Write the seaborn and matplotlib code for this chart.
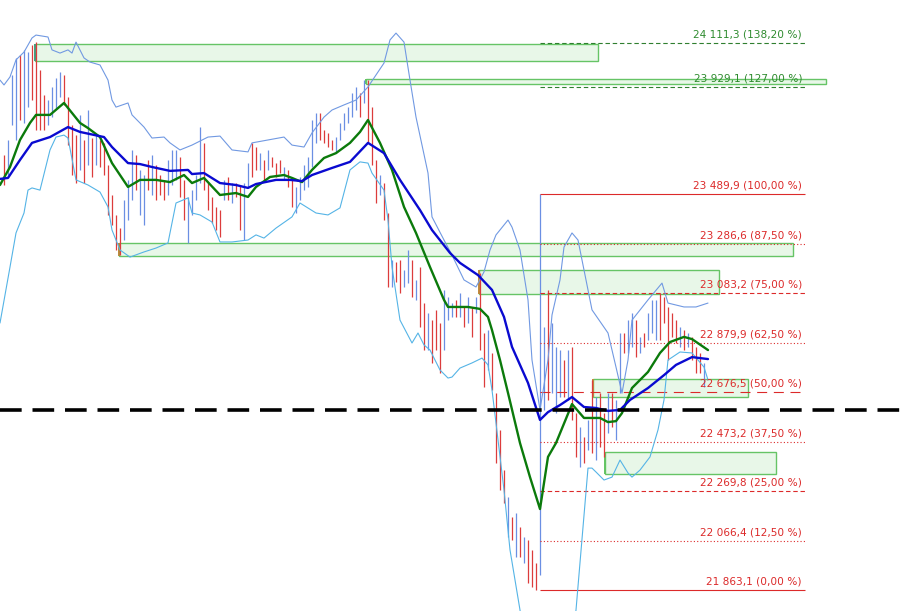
import numpy as np
import pandas as pd
import matplotlib
matplotlib.use("Agg")
import matplotlib.pyplot as plt
from matplotlib.patches import Rectangle
import seaborn as sns

sns.set_theme(style="white")
plt.rcParams["font.family"] = ["DejaVu Sans"]

# ----------------------------------------------------------------------
# price bars (one per bar index 1..176), high / low and direction
# ----------------------------------------------------------------------
bar_high = [
    23650, 23712, 23979, 24049, 24061, 24082, 24073, 24102, 24114, 23999,
    23897, 23876, 23930, 23967, 23991, 23979, 23889, 23773, 23732, 23815,
    23712, 23835, 23720, 23732, 23712, 23700, 23609, 23486, 23404, 23350,
    23465, 23548, 23671, 23650, 23589, 23568, 23630, 23650, 23609, 23568,
    23548, 23630, 23671, 23671, 23642, 23548, 23478, 23506, 23568, 23765,
    23700, 23535, 23478, 23437, 23424, 23548, 23560, 23535, 23535, 23527,
    23535, 23617, 23700, 23683, 23658, 23630, 23671, 23642, 23617, 23630,
    23601, 23589, 23560, 23519, 23560, 23609, 23642, 23794, 23823, 23823,
    23753, 23741, 23712, 23724, 23782, 23823, 23847, 23905, 23930, 23905,
    23958, 23958, 23847, 23630, 23568, 23535, 23412, 23219, 23211, 23219,
    23178, 23260, 23219, 23137, 23190, 23042, 23001, 22972, 23014, 22960,
    23096, 23067, 23042, 23055, 23083, 23026, 23067, 23026, 23067, 23166,
    22919, 22931, 22837, 22673, 22521, 22356, 22245, 22163, 22180, 22122,
    22081, 22069, 22028, 21974, 23489.9, 22944, 23096, 22960, 22862, 22849,
    22808, 22849, 22862, 22590, 22533, 22492, 22562, 22726, 22656, 22673,
    22590, 22673, 22673, 22644, 22919, 22919, 22972, 23001, 22972, 22903,
    22919, 23001, 23055, 23055, 23083, 23067, 23026, 23001, 22972, 22944,
    22931, 22919, 22903, 22862, 22837, 22796,
]
bar_low = [
    23527, 23568, 23773, 23712, 23794, 23782, 23847, 23876, 23753, 23753,
    23753, 23773, 23806, 23843, 23889, 23856, 23691, 23568, 23535, 23589,
    23535, 23609, 23560, 23609, 23601, 23568, 23404, 23363, 23260, 23239,
    23301, 23383, 23465, 23506, 23404, 23363, 23506, 23486, 23465, 23486,
    23465, 23486, 23527, 23548, 23478, 23383, 23289, 23404, 23465, 23535,
    23506, 23424, 23371, 23342, 23313, 23465, 23465, 23453, 23478, 23342,
    23301, 23519, 23560, 23589, 23589, 23548, 23589, 23601, 23560, 23576,
    23548, 23519, 23437, 23412, 23465, 23506, 23519, 23601, 23700, 23712,
    23700, 23683, 23671, 23658, 23712, 23753, 23782, 23806, 23835, 23806,
    23864, 23700, 23609, 23453, 23486, 23383, 23108, 23108, 23129, 23083,
    23108, 23124, 23067, 23055, 22944, 22849, 22849, 22796, 22849, 22755,
    22849, 22972, 22985, 22985, 22985, 22944, 22960, 22903, 23001, 22849,
    22697, 22767, 22685, 22385, 22274, 22221, 22081, 22069, 21999, 21999,
    21974, 21892, 21876, 21863.1, 21925, 22603, 22644, 22673, 22590, 22656,
    22656, 22644, 22562, 22410, 22369, 22385, 22438, 22426, 22397, 22451,
    22410, 22508, 22533, 22480, 22673, 22837, 22837, 22862, 22820, 22837,
    22862, 22890, 22919, 22890, 22890, 22960, 22808, 22903, 22878, 22862,
    22849, 22862, 22808, 22755, 22755, 22697,
]
# r = down bar, b = up bar
bar_dir = ("rbbbrbbrrr" "rbbbbrrrrb" "rbrbrrrrrr" "bbbrbbrbrr" "rbbbrrbbbb"
           "rrrrrbrbrr" "bbrrbrbrrr" "brrbbbbbbr" "rrrbbbbbbr" "brrrbrrbrr"
           "bbrbrrbrrr" "bbbrbrbrbr" "rbrrrrbrbr" "brrrbbrbbb" "rbrrbrbrbr"
           "rbrbbrbbrb" "rbbbrrrrrb" "rbrrrb")

# ----------------------------------------------------------------------
# moving averages and Bollinger bands, read at bar positions
# ----------------------------------------------------------------------
ma_fast_x = [0, 2.5, 5, 7.5, 9, 12.5, 16, 20, 22, 25, 28, 32, 35, 39, 42.5, 46,
             48, 51, 55, 59, 62, 64, 67.5, 71, 73, 75.5, 78, 81, 84, 87.5, 90,
             92, 95, 98, 101, 104, 107.5, 111, 112, 117, 120, 122, 123, 125,
             127, 130, 132.5, 135, 136, 137, 139, 143, 146, 150, 152, 154,
             155.5, 158, 162, 165, 167.5, 171, 173, 177]
ma_fast = [23527, 23601, 23712, 23782, 23815, 23815, 23864, 23782, 23761, 23724,
           23617, 23519, 23548, 23548, 23539, 23568, 23535, 23556, 23486, 23494,
           23478, 23519, 23560, 23568, 23556, 23539, 23589, 23638, 23658, 23700,
           23745, 23794, 23700, 23589, 23437, 23330, 23190, 23055, 23026, 23026,
           23018, 22985, 22931, 22808, 22673, 22467, 22327, 22196, 22303, 22410,
           22467, 22627, 22570, 22570, 22553, 22557, 22590, 22693, 22759, 22837,
           22882, 22903, 22894, 22849]

ma_slow_x = [0, 2, 5, 8, 12.5, 17, 20, 26, 28, 32, 35, 38, 42.5, 47, 48, 51,
             55, 59, 62, 64, 69, 72.5, 75.5, 78, 83, 87.5, 92, 96, 100, 105,
             108, 112.5, 115, 119.5, 123, 126, 128, 132, 135, 137, 140, 143,
             146, 149, 152, 155, 157.5, 162, 166, 169, 173, 177]
ma_slow = [23552, 23556, 23630, 23700, 23724, 23765, 23745, 23724, 23683, 23617,
           23613, 23601, 23585, 23589, 23572, 23576, 23535, 23527, 23515, 23531,
           23548, 23548, 23543, 23568, 23597, 23622, 23700, 23658, 23548, 23424,
           23342, 23248, 23207, 23157, 23096, 22985, 22862, 22714, 22562, 22594,
           22623, 22656, 22615, 22611, 22599, 22603, 22644, 22693, 22746, 22788,
           22820, 22812]

band_up_x = [0, 1, 2.5, 4, 6, 8, 9, 12, 13, 15, 17, 18, 19, 21, 22.5, 25, 27,
             28, 29, 32, 33, 36, 38, 41, 42.5, 45, 48, 52, 55, 58, 62, 63, 67,
             71, 73, 76, 78, 81, 83, 86, 89, 92, 96, 97.5, 99, 101, 102.5, 104,
             107, 108, 111, 113, 116, 119, 121, 122.5, 124, 127, 128, 130, 132,
             133, 135, 137, 138, 140, 141, 143, 144.5, 147, 148, 152, 154,
             155.5, 157, 158, 162, 165.5, 167, 171, 174, 177]
band_up = [23958, 23938, 23971, 24041, 24073, 24131, 24143, 24135, 24082, 24069,
           24082, 24069, 24114, 24049, 24032, 24020, 23958, 23876, 23847, 23864,
           23815, 23765, 23720, 23724, 23700, 23671, 23691, 23724, 23728, 23671,
           23663, 23700, 23712, 23724, 23691, 23683, 23741, 23806, 23835, 23856,
           23876, 23930, 24028, 24123, 24151, 24114, 23958, 23806, 23576, 23396,
           23301, 23239, 23137, 23108, 23170, 23260, 23322, 23383, 23354, 23260,
           23055, 22808, 22603, 22808, 22993, 23137, 23272, 23330, 23301, 23096,
           23014, 22919, 22779, 22672, 22808, 22972, 23055, 23124, 23042, 23026,
           23026, 23042]

band_low_x = [0, 2.5, 4, 6, 7, 8, 10, 12.5, 14, 16, 17, 19, 22, 25, 27, 28,
              30, 32.5, 36, 39, 42, 44, 47, 48, 50, 53, 55, 58, 62, 64, 66, 69,
              73, 75, 79, 82, 85, 87.5, 90, 92, 93, 96, 97, 98, 100, 103, 104.5,
              106, 107.5, 110, 112, 113, 115, 118, 120.5, 122, 123, 124, 126,
              127.5, 130, 132.5, 136, 140, 142.5, 144, 147, 148, 149, 151, 153,
              155, 157, 158, 160, 162.5, 164.5, 166, 167, 170, 173, 176, 177]
band_low = [22960, 23190, 23330, 23412, 23506, 23515, 23506, 23671, 23724, 23732,
            23720, 23548, 23527, 23498, 23437, 23342, 23260, 23231, 23252, 23268,
            23289, 23453, 23474, 23412, 23404, 23375, 23293, 23293, 23301, 23322,
            23309, 23350, 23396, 23453, 23412, 23404, 23433, 23589, 23622, 23617,
            23576, 23506, 23383, 23190, 22972, 22878, 22919, 22870, 22849, 22767,
            22734, 22738, 22775, 22796, 22816, 22788, 22685, 22549, 22274, 22028,
            21781, 21494, 21329, 21411, 21617, 21781, 22364, 22364, 22348, 22315,
            22327, 22397, 22344, 22327, 22356, 22410, 22521, 22644, 22808, 22841,
            22837, 22779, 22726]

# ----------------------------------------------------------------------
# supply / demand zones: start bar, end bar, low, high
# ----------------------------------------------------------------------
zone_x0 = [8.75, 91.5, 29.75, 119.75, 148.25, 151.25]
zone_x1 = [149.5, 206.5, 198.25, 179.75, 187.0, 194.0]
zone_lo = [24036, 23942, 23235, 23079, 22656, 22340]
zone_hi = [24106, 23962, 23289, 23178, 22730, 22430]
zone_left = ["#3f9f80", "#62c462", "#b88a3a", "#c08a3a", "#c08a3a", "#62c462"]

# ----------------------------------------------------------------------
# Fibonacci levels drawn from the swing bar
# ----------------------------------------------------------------------
fib_pct = [138.2, 127.0, 100.0, 87.5, 75.0, 62.5, 50.0, 37.5, 25.0, 12.5, 0.0]
fib_price = [24111.3, 23929.1, 23489.9, 23286.6, 23083.2, 22879.9, 22676.5,
             22473.2, 22269.8, 22066.4, 21863.1]
fib_start, fib_end = 135, 201.25

pivot_level = 22602

RED = "#dc3c3c"
BLUE = "#6b8fe3"
FIB_RED = "#dc2a2a"
FIB_GREEN = "#2f7f2f"


def fmt_num(v):
    s = f"{v:,.1f}".replace(",", " ").replace(".", ",")
    return s


def fmt_pct(p):
    return f"{p:.2f}".replace(".", ",") + " %"


fig = plt.figure(figsize=(9.1, 6.11), dpi=100)
ax = fig.add_axes([0, 0, 1, 1])
ax.set_facecolor("white")

# zones
for x0, x1, lo, hi, lc in zip(zone_x0, zone_x1, zone_lo, zone_hi, zone_left):
    ax.add_patch(Rectangle((x0, lo), x1 - x0, hi - lo, facecolor="#e8f7e8",
                           edgecolor="#66c466", lw=1.0, zorder=1))
    ax.vlines(x0, lo, hi, color=lc, lw=1.4, zorder=1.5)

# bars
bars = pd.DataFrame({"bar": np.arange(1, len(bar_high) + 1),
                     "high": bar_high, "low": bar_low,
                     "dir": list(bar_dir)})
for d, col in [("r", RED), ("b", BLUE)]:
    sub = bars[bars["dir"] == d]
    ax.vlines(sub["bar"], sub["low"], sub["high"], color=col, lw=0.9, zorder=2)

# fib levels
fib_styles = {138.2: (FIB_GREEN, (0, (4, 2.5))),
              127.0: (FIB_GREEN, (0, (4, 2.5))),
              100.0: (FIB_RED, "solid"),
              87.5: (FIB_RED, (0, (1, 2))),
              75.0: (FIB_RED, (0, (4, 2.5))),
              62.5: (FIB_RED, (0, (1, 2))),
              50.0: (FIB_RED, (0, (9, 6))),
              37.5: (FIB_RED, (0, (1, 2))),
              25.0: (FIB_RED, (0, (4, 2.5))),
              12.5: (FIB_RED, (0, (1, 2))),
              0.0: (FIB_RED, "solid")}
for pct, price in zip(fib_pct, fib_price):
    col, ls = fib_styles[pct]
    ax.hlines(price, fib_start, fib_end, color=col, linestyle=ls, lw=0.8,
              zorder=2.5)
    ax.annotate(f"{fmt_num(price)} ({fmt_pct(pct)})", xy=(200.5, price),
                xytext=(0, 2.5), textcoords="offset points", ha="right",
                va="bottom", fontsize=7.6, color=col if pct < 101 else "#2e8b2e",
                zorder=7)

# bands and moving averages
sns.lineplot(x=band_up_x, y=band_up, ax=ax, color="#7199e2", lw=0.8,
             estimator=None, sort=False, zorder=3)
sns.lineplot(x=band_low_x, y=band_low, ax=ax, color="#55b4e6", lw=0.8,
             estimator=None, sort=False, zorder=3)
sns.lineplot(x=ma_fast_x, y=ma_fast, ax=ax, color="#0b7a0b", lw=1.7,
             estimator=None, sort=False, zorder=4)
sns.lineplot(x=ma_slow_x, y=ma_slow, ax=ax, color="#0a0ad0", lw=1.7,
             estimator=None, sort=False, zorder=4)

# pivot line
ax.axhline(pivot_level, color="black", lw=2.6, dashes=(6, 3), zorder=6)

ax.set_xlim(0, 227.5)
ax.set_ylim(21777, 24287)
ax.set_axis_off()

fig.savefig("out.png", dpi=100, facecolor="white")
